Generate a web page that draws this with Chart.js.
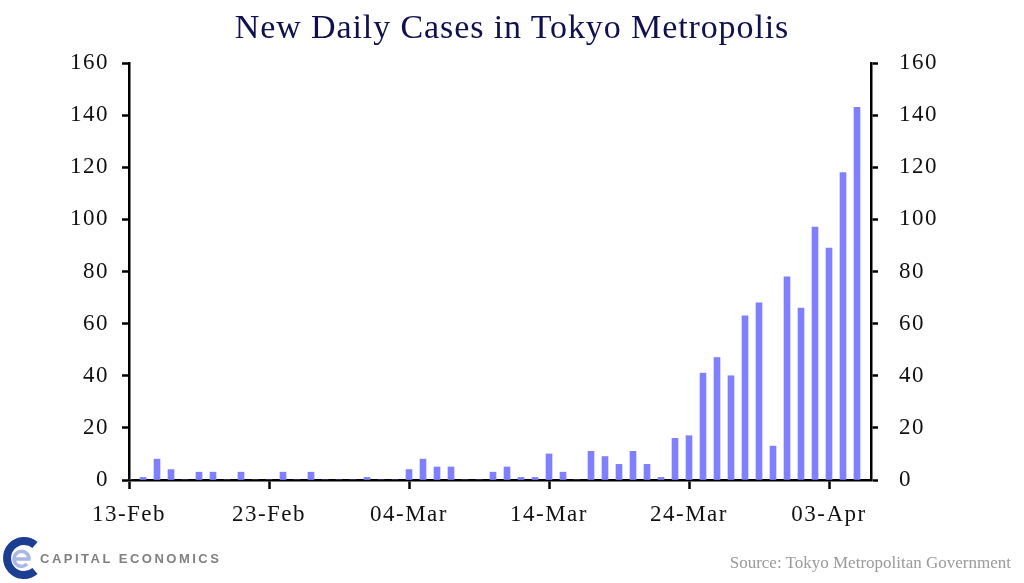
<!DOCTYPE html>
<html>
<head>
<meta charset="utf-8">
<script src="https://cdn.jsdelivr.net/npm/chart.js@4"></script>
<style>
  body { margin: 0; background: #fff; }
  #wrap { position: relative; width: 1024px; height: 583px; overflow: hidden; }
  #chart { position: absolute; left: 0; top: 0; }
  .title {
    position: absolute; left: 0; top: 9.5px; width: 1024px; text-align: center;
    font: 34px/34px "Liberation Serif", serif; letter-spacing: 0.9px; color: #10104e;
  }
  .source {
    position: absolute; right: 13px; top: 554px;
    font: 17px/17px "Liberation Serif", serif; color: #9a9a9a; white-space: nowrap;
  }
  .brand {
    position: absolute; left: 40px; top: 552px;
    font: bold 13px/13px "Liberation Sans", sans-serif; letter-spacing: 2.5px; color: #808080;
    white-space: nowrap;
  }
  .logo { position: absolute; left: 2px; top: 536px; }
</style>
</head>
<body>
<div id="wrap">
  <canvas id="chart" width="1024" height="583"></canvas>
  <div class="title">New Daily Cases in Tokyo Metropolis</div>
  <svg class="logo" width="40" height="44" viewBox="0 0 40 44">
    <path d="M33 9 A17 17 0 1 0 33 35" fill="none" stroke="#1c3e92" stroke-width="8"/>
    <path d="M14 23 H27 A7.5 7.5 0 1 0 25 28" fill="none" stroke="#a9b7e6" stroke-width="3.5"/>
  </svg>
  <div class="brand">CAPITAL ECONOMICS</div>
  <div class="source">Source: Tokyo Metropolitan Government</div>
</div>
<script>
// days on the axis, 13 Feb to 06 Apr
const dates = [
  "13-Feb","14-Feb","15-Feb","16-Feb","17-Feb","18-Feb","19-Feb","20-Feb","21-Feb","22-Feb",
  "23-Feb","24-Feb","25-Feb","26-Feb","27-Feb","28-Feb","29-Feb","01-Mar","02-Mar","03-Mar",
  "04-Mar","05-Mar","06-Mar","07-Mar","08-Mar","09-Mar","10-Mar","11-Mar","12-Mar","13-Mar",
  "14-Mar","15-Mar","16-Mar","17-Mar","18-Mar","19-Mar","20-Mar","21-Mar","22-Mar","23-Mar",
  "24-Mar","25-Mar","26-Mar","27-Mar","28-Mar","29-Mar","30-Mar","31-Mar","01-Apr","02-Apr",
  "03-Apr","04-Apr","05-Apr","06-Apr"
];

const newCases = [
  0, 1, 8, 4, 0, 3, 3, 0, 3, 0,
  0, 3, 0, 3, 0, 0, 0, 1, 0, 0,
  4, 8, 5, 5, 0, 0, 3, 5, 1, 1,
  10, 3, 0, 11, 9, 6, 11, 6, 1, 16,
  17, 41, 47, 40, 63, 68, 13, 78, 66, 97,
  89, 118, 143, null
];

const yTicks = [0, 20, 40, 60, 80, 100, 120, 140, 160];
const labelEvery = 10;

const tickFont = { family: "Liberation Serif", size: 23 };

// wider letter spacing, like the original axis labels
const spacing = {
  id: "spacing",
  beforeDraw(c) { c.ctx.letterSpacing = "1.5px"; }
};

function yAxis(pos, width, pad) {
  return {
    position: pos,
    min: 0,
    max: 160,
    afterBuildTicks: s => { s.ticks = yTicks.map(v => ({ value: v })); },
    afterFit: s => { s.width = width; },
    grid: { drawOnChartArea: false, tickLength: 7, tickWidth: 2.5, tickColor: "#000" },
    border: { color: "#000", width: 2.5 },
    ticks: { color: "#111", font: tickFont, padding: pad }
  };
}

new Chart(document.getElementById("chart"), {
  type: "bar",
  data: {
    labels: dates,
    datasets: [{
      data: newCases,
      backgroundColor: "#8080ff",
      barThickness: 6,
      yAxisID: "y"
    }]
  },
  options: {
    responsive: false,
    animation: false,
    devicePixelRatio: 1,
    layout: { padding: { top: 63 } },
    plugins: { legend: { display: false }, tooltip: { enabled: false }, title: { display: false } },
    scales: {
      x: {
        offset: false,
        afterBuildTicks: s => { s.ticks = s.ticks.filter(t => t.value % labelEvery === 0); },
        afterFit: s => { s.height = 103; },
        grid: { offset: false, drawOnChartArea: false, tickLength: 9, tickWidth: 2.5, tickColor: "#000" },
        border: { color: "#000", width: 2.5 },
        ticks: { color: "#111", font: tickFont, padding: 12, autoSkip: false, maxRotation: 0 }
      },
      y: yAxis("left", 129, 13),
      y2: yAxis("right", 153, 21)
    }
  },
  plugins: [spacing]
});
</script>
</body>
</html>
